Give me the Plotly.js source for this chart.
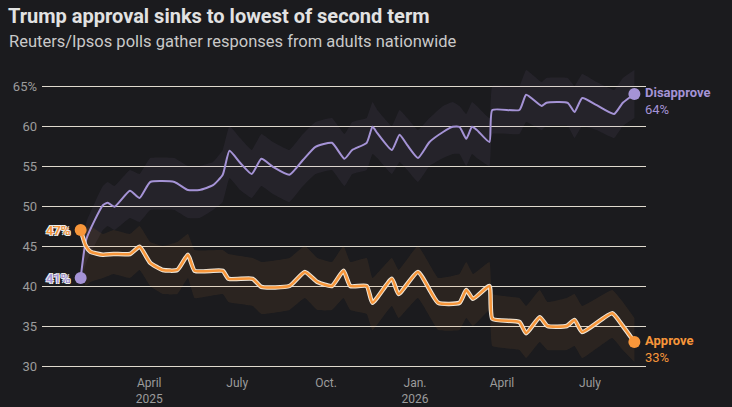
<!DOCTYPE html>
<html>
<head>
<meta charset="utf-8">
<script src="https://cdn.plot.ly/plotly-3.0.1.min.js"></script>
<style>
  html, body { margin: 0; padding: 0; background: #1b1b1e; }
  #chart { width: 732px; height: 407px; }
</style>
</head>
<body>
<div id="chart"></div>
<script>
// Disapprove series
var disDates = ['2025-01-20','2025-01-26','2025-02-12','2025-02-17','2025-02-24','2025-03-12','2025-03-22','2025-04-02','2025-04-27','2025-05-11',
  '2025-05-23','2025-06-06','2025-06-16','2025-06-23','2025-07-04','2025-07-16','2025-07-26','2025-08-07','2025-08-24','2025-09-07',
  '2025-09-20','2025-10-07','2025-10-20','2025-10-28','2025-11-12','2025-11-18','2025-11-23','2025-12-08','2025-12-16','2025-12-24',
  '2026-01-04','2026-01-16','2026-01-30','2026-02-09','2026-02-16','2026-02-23','2026-03-01','2026-03-06','2026-03-19','2026-03-22',
  '2026-04-19','2026-04-26','2026-05-12','2026-05-17','2026-06-08','2026-06-15','2026-06-23','2026-07-08','2026-07-26','2026-08-04','2026-08-16'];
var disapprove = [41, 45.9, 50.1, 50.4, 49.9, 51.9, 51, 53, 53, 52,
  52, 52.6, 53.9, 56.9, 55.4, 54, 55.9, 54.9, 53.9, 55.75,
  57.4, 57.9, 55.9, 57, 57.9, 59.9, 59.1, 57, 58.9, 57.6,
  56, 58, 59.25, 59.9, 59.9, 58.4, 59.9, 59.5, 58, 62,
  62, 63.9, 62.5, 62.9, 62.9, 61.75, 63.5, 62.6, 61.5, 62.9, 64];
var disHigh = [41.5, 48, 52.5, 53, 52.5, 54.5, 54, 56, 56, 55,
  55, 55.5, 57, 60, 58.5, 57, 59, 58, 57, 59,
  60.5, 61, 59, 60.5, 61, 63, 62, 60, 62, 61,
  59.5, 61, 62.5, 63, 62.5, 61.5, 63, 62.5, 61, 65,
  65, 67, 65.5, 66, 66, 65, 66.5, 65.5, 64.5, 66, 67];
var disLow = [40.5, 43, 47, 47.5, 47, 48.5, 48, 49.5, 49.5, 48.5,
  48.5, 49.5, 50.5, 53.5, 52, 51, 52.5, 51.5, 50.5, 52.5,
  54, 54.5, 52.5, 54, 54.5, 56.5, 56, 54, 55.5, 54.5,
  53, 55, 56, 56.5, 56.5, 55, 56.5, 56, 55, 59,
  59, 60.5, 59.5, 60, 60, 58.5, 60, 59.5, 58.5, 60, 61];

// Approve series
var appDates = ['2025-01-20','2025-01-25','2025-01-30','2025-02-12','2025-02-23','2025-03-12','2025-03-22','2025-04-02','2025-04-15','2025-04-30',
  '2025-05-11','2025-05-18','2025-06-16','2025-06-22','2025-07-17','2025-07-26','2025-08-24','2025-09-09','2025-09-22','2025-10-07',
  '2025-10-19','2025-10-26','2025-11-12','2025-11-18','2025-12-08','2025-12-15','2026-01-04','2026-01-25','2026-02-16','2026-02-23',
  '2026-03-02','2026-03-19','2026-03-22','2026-04-19','2026-04-26','2026-05-10','2026-05-18','2026-06-07','2026-06-15','2026-06-23',
  '2026-07-24','2026-08-04','2026-08-16'];
var approve = [47, 45.1, 44.3, 43.9, 44, 44, 44.9, 42.9, 42, 42,
  43.9, 41.9, 41.9, 40.9, 40.9, 39.9, 40, 41.75, 40.5, 40,
  41.9, 40, 40, 37.9, 40.9, 39, 41.75, 37.9, 37.9, 39.5,
  38.4, 40, 35.9, 35.5, 34.1, 36.1, 35, 35, 35.75, 34.25,
  36.6, 35, 33];
var appHigh = [47.5, 47, 47.5, 46.5, 47, 46.5, 47.5, 45.5, 45, 45.5,
  46.5, 44.5, 44.5, 44, 43.5, 43, 43.5, 45, 43.5, 43,
  45, 43, 43.5, 41, 43.5, 42, 45, 41, 41.5, 43,
  41.5, 43, 39, 38.5, 37.5, 39.5, 38, 38.5, 39, 37.5,
  39.5, 38, 36];
var appLow = [46.5, 40, 40.5, 41, 41.5, 41, 42, 40, 39, 39,
  41, 38.5, 39, 38, 37.5, 36.5, 37, 38.5, 37, 37,
  38.5, 37, 36.5, 34.5, 37.5, 36, 38.5, 34.5, 34.5, 36,
  35, 37, 32.5, 32, 31, 33, 32, 32, 32.5, 31,
  33.5, 32, 30.5];

// axis ticks
var xTickVals = ['2025-04-01','2025-07-01','2025-10-01','2026-01-01','2026-04-01','2026-07-01'];
var xTickText = ['April<br>2025','July','Oct.','Jan.<br>2026','April','July'];
var yTickVals = [30, 35, 40, 45, 50, 55, 60, 65];
var yTickText = ['30','35','40','45','50','55','60','65%'];

var purple = '#a593d6';
var orange = '#f7963a';
var font = 'Roboto, "Noto Sans", sans-serif';
var nA = approve.length - 1;
var nD = disapprove.length - 1;
var halo = '1px 1px 0 #eee, -1px -1px 0 #eee, 1px -1px 0 #eee, -1px 1px 0 #eee';

var traces = [
  // bands
  {x: disDates, y: disLow, mode: 'lines', line: {width: 0, shape: 'spline', smoothing: 0.3}, hoverinfo: 'skip'},
  {x: disDates, y: disHigh, mode: 'lines', fill: 'tonexty', fillcolor: 'rgba(165,147,214,0.07)',
   line: {width: 0, shape: 'spline', smoothing: 0.3}, hoverinfo: 'skip'},
  {x: appDates, y: appLow, mode: 'lines', line: {width: 0, shape: 'spline', smoothing: 0.3}, hoverinfo: 'skip'},
  {x: appDates, y: appHigh, mode: 'lines', fill: 'tonexty', fillcolor: 'rgba(247,150,58,0.08)',
   line: {width: 0, shape: 'spline', smoothing: 0.3}, hoverinfo: 'skip'},
  // lines
  {x: disDates, y: disapprove, mode: 'lines', line: {color: purple, width: 2, shape: 'spline', smoothing: 0.5}},
  {x: appDates, y: approve, mode: 'lines', line: {color: '#efe6d8', width: 4.5, shape: 'spline', smoothing: 0.5}},
  {x: appDates, y: approve, mode: 'lines', line: {color: orange, width: 2.5, shape: 'spline', smoothing: 0.5}},
  // end points
  {x: [disDates[0], disDates[nD]], y: [disapprove[0], disapprove[nD]], mode: 'markers',
   marker: {color: purple, size: 12}, cliponaxis: false},
  {x: [appDates[0], appDates[nA]], y: [approve[0], approve[nA]], mode: 'markers',
   marker: {color: orange, size: 12}, cliponaxis: false}
];

var layout = {
  width: 732, height: 407,
  paper_bgcolor: '#1b1b1e', plot_bgcolor: '#1b1b1e',
  margin: {l: 42, r: 86, t: 62, b: 33},
  showlegend: false,
  hovermode: false,
  font: {family: font, color: '#9c9c9c', size: 12},
  title: {
    text: '<b>Trump approval sinks to lowest of second term</b>',
    xref: 'container', yref: 'container', x: 8 / 732, xanchor: 'left',
    y: 1 - 16 / 407, yanchor: 'middle',
    font: {family: font, size: 20, color: '#e2e2e2'}
  },
  xaxis: {
    type: 'date', range: ['2024-12-11', '2026-08-28'],
    showgrid: false, zeroline: false, showline: false,
    tickvals: xTickVals, ticktext: xTickText, ticks: '',
    tickfont: {family: font, size: 12, color: '#9c9c9c'}
  },
  yaxis: {
    range: [29, 68], tickvals: yTickVals, ticktext: yTickText,
    showgrid: true, gridcolor: '#e0dace', gridwidth: 1, zeroline: false, showline: false,
    ticks: '', ticklabelstandoff: 4,
    tickfont: {family: font, size: 13, color: '#9c9c9c'}
  },
  annotations: [
    {text: 'Reuters/Ipsos polls gather responses from adults nationwide', xref: 'paper', yref: 'paper',
     x: -35 / 604, y: 1 + (62 - 41) / 312, xanchor: 'left', yanchor: 'middle', showarrow: false,
     font: {family: font, size: 16.5, color: '#c9c9c9'}},
    {text: '47%', x: appDates[0], y: approve[0], xanchor: 'right', xshift: -8, showarrow: false,
     font: {family: font, size: 13, color: orange, weight: 600, shadow: halo}},
    {text: '41%', x: disDates[0], y: disapprove[0], xanchor: 'right', xshift: -8, showarrow: false,
     font: {family: font, size: 13, color: purple, weight: 600, shadow: halo}},
    {text: '<b>Disapprove</b><br>' + disapprove[nD] + '%', x: disDates[nD], y: disapprove[nD], xanchor: 'left',
     yanchor: 'top', yshift: 11, xshift: 9, align: 'left', showarrow: false,
     font: {family: font, size: 13, color: purple}},
    {text: '<b>Approve</b><br>' + approve[nA] + '%', x: appDates[nA], y: approve[nA], xanchor: 'left',
     yanchor: 'top', yshift: 11, xshift: 9, align: 'left', showarrow: false,
     font: {family: font, size: 13, color: orange}}
  ]
};

Plotly.newPlot('chart', traces, layout, {displayModeBar: false, staticPlot: true});
</script>
</body>
</html>
